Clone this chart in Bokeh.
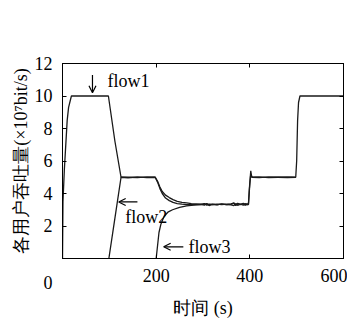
from bokeh.plotting import figure
from bokeh.models import Range1d, LinearAxis, Label, Arrow, OpenHead, FixedTicker
from bokeh.embed import file_html
from bokeh.resources import INLINE

# Data (time in s, throughput in 1e7 bit/s)
flow1_t = [0, 1, 4, 10, 13, 19, 40, 60, 80, 98, 102, 112, 125, 140, 160, 180, 198,
           203, 208, 213, 220, 228, 236, 245, 255, 265, 275, 285, 295,
           303, 308, 313, 320, 330, 340, 350, 360, 366, 370, 374, 380, 386, 390, 394, 397]
flow1_y = [0, 3.5, 5.5, 8.5, 9.3, 10, 10, 10, 10, 10, 9.2, 7.2, 5.0, 5.0, 4.98, 5.02, 5.0,
           4.75, 4.4, 4.12, 3.9, 3.75, 3.62, 3.52, 3.46, 3.42, 3.38, 3.36, 3.34,
           3.38, 3.28, 3.34, 3.32, 3.35, 3.31, 3.34, 3.36, 3.42, 3.30, 3.40, 3.33, 3.38, 3.28, 3.35, 3.33]

flow2_t = [99, 112, 125, 140, 160, 180, 198,
           203, 208, 213, 220, 228, 236, 245, 255, 265, 275, 285, 295,
           303, 308, 313, 320, 330, 340, 350, 360, 366, 370, 374, 380, 386, 390, 394, 397,
           399, 402, 404, 420, 440, 460, 480, 498]
flow2_y = [0, 2.5, 5.0, 4.97, 5.02, 4.98, 5.0,
           4.7, 4.3, 4.0, 3.72, 3.56, 3.45, 3.38, 3.34, 3.32, 3.31, 3.32, 3.33,
           3.28, 3.38, 3.31, 3.34, 3.30, 3.36, 3.32, 3.30, 3.25, 3.38, 3.27, 3.34, 3.28, 3.38, 3.30, 3.33,
           4.3, 5.4, 5.0, 5.02, 4.98, 5.0, 5.02, 5.0]

flow3_t = [200, 203, 206, 210, 217, 225, 235, 250, 265, 285, 300,
           308, 313, 320, 330, 340, 350, 360, 366, 370, 374, 380, 386, 390, 394, 397,
           400, 402, 405, 420, 440, 460, 480, 498, 500, 502, 504, 507, 540, 570, 600]
flow3_y = [0, 0.8, 1.6, 2.1, 2.6, 2.85, 3.0, 3.15, 3.24, 3.3, 3.33,
           3.36, 3.26, 3.33, 3.31, 3.35, 3.32, 3.34, 3.40, 3.26, 3.36, 3.31, 3.40, 3.30, 3.36, 3.32,
           4.6, 5.2, 5.0, 4.98, 5.02, 5.0, 4.98, 5.0, 6.0, 8.5, 9.6, 10, 10, 10, 10]

x_ticks = [0, 200, 400, 600]
y_ticks = [0, 2, 4, 6, 8, 10, 12]

SERIF = "'Liberation Serif'"
FS = "18px"

p = figure(width=347, height=320, x_range=Range1d(0, 600), y_range=Range1d(0, 12),
           output_backend="svg", toolbar_location=None,
           min_border_left=62, min_border_right=4, min_border_top=63, min_border_bottom=57)
p.grid.visible = False
p.outline_line_color = "black"
p.outline_line_width = 1
p.background_fill_color = "white"
p.border_fill_color = "white"

def style_axis(ax, ticks, show_labels=True):
    ax.ticker = FixedTicker(ticks=ticks)
    ax.major_tick_in = 4
    ax.major_tick_out = 0
    ax.minor_tick_line_color = None
    ax.axis_line_color = "black"
    ax.major_tick_line_color = "black"
    ax.major_label_text_font = SERIF
    ax.major_label_text_color = "black"
    if show_labels:
        ax.major_label_text_font_size = FS
    else:
        ax.major_label_text_font_size = "1px"
        ax.major_label_text_color = None
        ax.major_label_standoff = 0
        ax.major_label_overrides = {t: "" for t in ticks}

xa = p.xaxis[0]
ya = p.yaxis[0]
style_axis(xa, x_ticks)
style_axis(ya, y_ticks)
# the shared origin "0" sits below-left of the corner
xa.major_label_overrides = {0: ""}
ya.major_label_overrides = {0: "\n\n0"}
ya.major_label_text_line_height = 1.22
xa.major_label_standoff = 10
ya.major_label_standoff = 10
xa.axis_label = "时间 (s)"
ya.axis_label = "各用户吞吐量(×10⁷bit/s)"
for ax in (xa, ya):
    ax.axis_label_text_font = SERIF
    ax.axis_label_text_font_size = FS
    ax.axis_label_text_font_style = "normal"
    ax.axis_label_text_color = "black"
xa.axis_label_standoff = 13
ya.axis_label_standoff = 1

top = LinearAxis()
right = LinearAxis()
style_axis(top, x_ticks, show_labels=False)
style_axis(right, y_ticks, show_labels=False)
p.add_layout(top, "above")
p.add_layout(right, "right")

for t, y in ((flow1_t, flow1_y), (flow2_t, flow2_y), (flow3_t, flow3_y)):
    p.line(t, y, line_color="#1a1a1a", line_width=1.3)

# annotations
def arrow(x0, y0, x1, y1):
    p.add_layout(Arrow(end=OpenHead(size=7, line_width=1.2, line_color="black"),
                       x_start=x0, y_start=y0, x_end=x1, y_end=y1,
                       line_width=1.2, line_color="black"))

def label(x, y, txt):
    p.add_layout(Label(x=x, y=y, text=txt, text_align="left", text_baseline="middle",
                       text_font=SERIF, text_font_size=FS, text_color="black"))

arrow(64, 11.3, 64, 10.2)
label(96, 10.9, "flow1")
arrow(160, 3.48, 120, 3.48)
label(134, 2.55, "flow2")
arrow(258, 0.72, 216, 0.72)
label(269, 0.72, "flow3")

open("out.html", "w").write(file_html(p, INLINE))
